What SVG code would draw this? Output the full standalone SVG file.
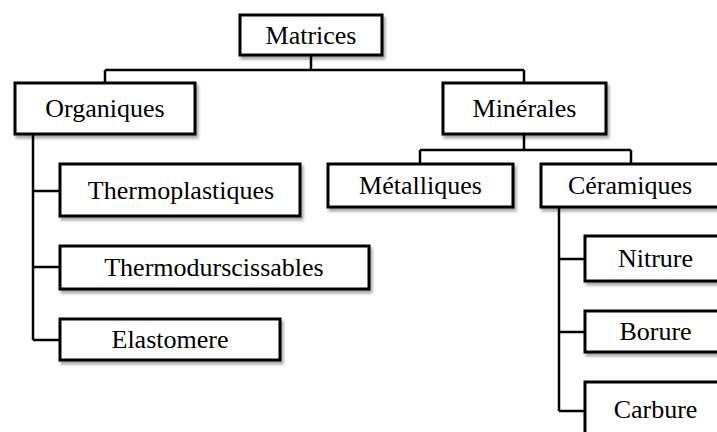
<svg xmlns="http://www.w3.org/2000/svg" width="717" height="432" viewBox="0 0 717 432">
<defs>
<filter id="sh" x="-10%" y="-20%" width="130%" height="160%">
<feDropShadow dx="2" dy="3" stdDeviation="1.5" flood-color="#000" flood-opacity="0.35"/>
</filter>
</defs>
<style>
.box{fill:#fff;stroke:#000;stroke-width:3;filter:url(#sh)}
.lbl{font-family:"Liberation Serif","Times New Roman",serif;font-size:26px;fill:#000;text-anchor:middle}
.conn{fill:none;stroke:#000;stroke-width:2.5}
</style>
<rect width="717" height="432" fill="#fff"/>
<g id="connectors">
<path class="conn" d="M311,55 V70 M105,70 H524 M105,70 V83 M524,70 V83"/>
<path class="conn" d="M524,134 V150 M420,150 H631 M420,150 V164 M631,150 V164"/>
<path class="conn" d="M33,134 V340 M33,191 H60 M33,267 H60 M33,340 H60"/>
<path class="conn" d="M559,207 V411 M559,259 H585 M559,332 H585 M559,411 H585"/>
</g>
<g id="matrices"><rect class="box" x="240" y="15" width="142" height="40"/><text class="lbl" x="311" y="44">Matrices</text></g>
<g id="organiques"><rect class="box" x="15" y="83" width="180" height="51"/><text class="lbl" x="105" y="117">Organiques</text></g>
<g id="minerales"><rect class="box" x="443" y="83" width="163" height="51"/><text class="lbl" x="524.5" y="117">Minérales</text></g>
<g id="metalliques"><rect class="box" x="328" y="164" width="185" height="43"/><text class="lbl" x="420.5" y="194">Métalliques</text></g>
<g id="ceramiques"><rect class="box" x="541" y="164" width="178" height="43"/><text class="lbl" x="630" y="194">Céramiques</text></g>
<g id="thermoplastiques"><rect class="box" x="60" y="164" width="240" height="52"/><text class="lbl" x="181" y="199">Thermoplastiques</text></g>
<g id="thermodurscissables"><rect class="box" x="60" y="246" width="309" height="43"/><text class="lbl" x="214" y="276">Thermodurscissables</text></g>
<g id="elastomere"><rect class="box" x="60" y="319" width="220" height="41"/><text class="lbl" x="170" y="348">Elastomere</text></g>
<g id="nitrure"><rect class="box" x="585" y="236" width="141" height="45"/><text class="lbl" x="655.5" y="267">Nitrure</text></g>
<g id="borure"><rect class="box" x="585" y="311" width="141" height="41"/><text class="lbl" x="655.5" y="340">Borure</text></g>
<g id="carbure"><rect class="box" x="585" y="382" width="141" height="60"/><text class="lbl" x="655.5" y="418">Carbure</text></g>
</svg>
